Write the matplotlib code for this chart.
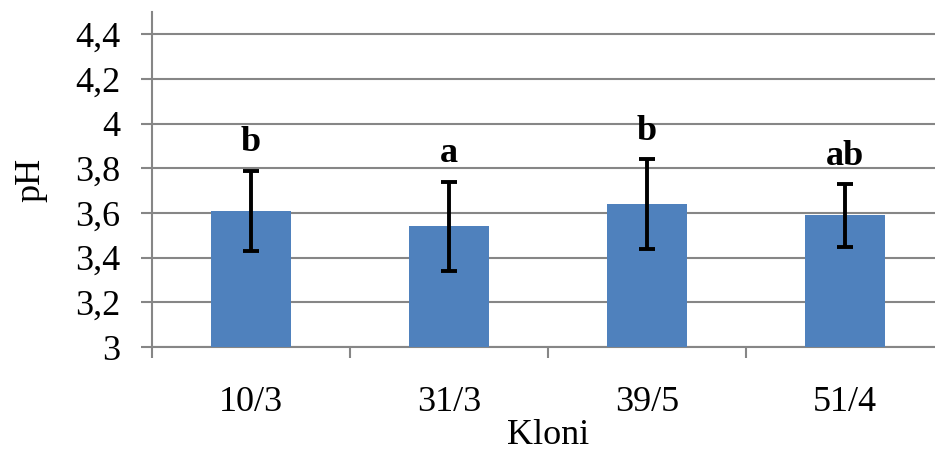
import numpy as np
import matplotlib.pyplot as plt

# data
clones = ['10/3', '31/3', '39/5', '51/4']
ph_mean = [3.61, 3.54, 3.64, 3.59]
ph_err = [0.18, 0.20, 0.20, 0.14]
letters = ['b', 'a', 'b', 'ab']

plt.rcParams['font.family'] = ['Liberation Serif', 'DejaVu Serif']
GRID = '#868686'
FS = 26

fig = plt.figure(figsize=(9.35, 4.54), dpi=100)
ax = fig.add_axes([152/935, 1 - 347/454, 792/935, 335/454])

x = np.arange(len(clones))
ax.bar(x, [m - 3 for m in ph_mean], bottom=3, width=0.4, color='#4F81BD', zorder=3)
ax.errorbar(x, ph_mean, yerr=ph_err, fmt='none', ecolor='black',
            elinewidth=2.8, capsize=6, capthick=2.8, zorder=4)

for xi, m, e, lab in zip(x, ph_mean, ph_err, letters):
    ax.annotate(lab, (xi, m + e), xytext=(0, 14), textcoords='offset points',
                ha='center', va='baseline', fontsize=FS, fontweight='bold')

ax.set_xlim(-0.5, len(clones) - 0.5)
ax.set_ylim(3, 4.5)
ax.set_yticks(np.arange(3, 4.41, 0.2))
ax.set_yticklabels(['3', '3,2', '3,4', '3,6', '3,8', '4', '4,2', '4,4'])
ax.set_xticks(x)
ax.set_xticklabels(clones)
ax.set_xticks(np.arange(-0.5, len(clones), 1), minor=True)
ax.tick_params(axis='x', which='major', length=0, pad=28, labelsize=FS)
ax.tick_params(axis='x', which='minor', length=8, width=1.5, color=GRID, direction='out')
ax.tick_params(axis='y', length=8, width=1.5, color=GRID, labelsize=FS, pad=15)

ax.grid(axis='y', color=GRID, linewidth=1.5, zorder=0)
ax.set_axisbelow(True)
for s in ['top', 'right']:
    ax.spines[s].set_visible(False)
for s in ['left', 'bottom']:
    ax.spines[s].set_color(GRID)
    ax.spines[s].set_linewidth(1.5)

ax.set_xlabel('Kloni', fontsize=FS, labelpad=0)
ax.set_ylabel('pH', fontsize=FS, labelpad=20)

fig.savefig('out.png', dpi=100)
